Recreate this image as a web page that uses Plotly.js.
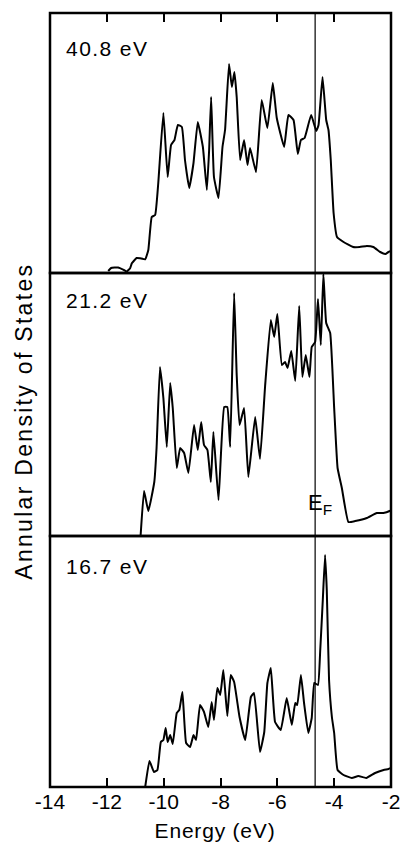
<!DOCTYPE html>
<html>
<head>
<meta charset="utf-8">
<script src="https://cdn.plot.ly/plotly-3.0.1.min.js"></script>
<style>
  html, body { margin: 0; padding: 0; background: #fff; }
  #chart { width: 400px; height: 842px; }
  g.annotation[data-index="0"] text { letter-spacing: 1.4px; }
  g.annotation[data-index="1"] text { letter-spacing: 1.4px; }
  g.annotation[data-index="2"] text { letter-spacing: 1.4px; }
  g.annotation[data-index="4"] text { letter-spacing: 2.3px; }
  g.annotation[data-index="5"] text { letter-spacing: 0.8px; }
</style>
</head>
<body>
<div id="chart"></div>
<script>
// ---- Data (energy in eV, annular density of states in arbitrary units) ----
const energy408 = [-11.95,-11.85,-11.6,-11.4,-11.3,-11.18,-11.12,-10.95,-10.83,-10.65,-10.54,-10.42,-10.3,-10.19,-10.01,-9.86,-9.74,-9.62,-9.5,-9.36,-9.25,-9.1,-8.95,-8.8,-8.62,-8.48,-8.4,-8.33,-8.23,-8.07,-7.93,-7.84,-7.7,-7.6,-7.51,-7.43,-7.31,-7.17,-7.05,-6.96,-6.75,-6.55,-6.35,-6.16,-6.02,-5.76,-5.61,-5.43,-5.28,-5.17,-5.04,-4.81,-4.63,-4.55,-4.41,-4.28,-4.2,-4.12,-4.02,-3.9,-3.67,-3.33,-3.1,-2.85,-2.62,-2.38,-2.2,-2.09,-2.0];
const dos408    = [2,5,5.5,3,1.5,4.7,9.7,15,14.7,13.7,23,56,58,90,160,96,128,133,148,146,113,85,110,151,126,83,123,176,96,75,126,143,209,186,201,176,113,133,108,125,101,173,145,190,155,126,158,153,119,133,135,158,142,148,196,153,143,113,60,36,31,26,26,27,26,21,19,21,22];

const energy212 = [-10.81,-10.69,-10.54,-10.33,-10.25,-10.13,-10.01,-9.89,-9.77,-9.68,-9.54,-9.42,-9.28,-9.13,-8.93,-8.8,-8.68,-8.58,-8.46,-8.34,-8.25,-8.07,-7.87,-7.76,-7.66,-7.52,-7.43,-7.33,-7.17,-7.02,-6.78,-6.61,-6.43,-6.23,-6.11,-6.0,-5.84,-5.73,-5.64,-5.51,-5.37,-5.23,-5.12,-5.0,-4.87,-4.79,-4.67,-4.57,-4.47,-4.38,-4.28,-4.14,-4.0,-3.88,-3.73,-3.5,-3.26,-2.85,-2.5,-2.27,-2.05,-2.0];
const dos212    = [1,45,25,54,88,169,138,89,153,128,68,88,83,63,111,86,114,91,86,54,104,36,129,129,89,243,161,111,128,59,119,77,150,216,199,222,171,174,168,185,155,230,159,181,159,189,194,237,191,262,213,203,128,68,48,14,15,18,23,23,25,26];

const energy167 = [-10.65,-10.5,-10.34,-10.22,-10.1,-10.01,-9.93,-9.86,-9.77,-9.68,-9.54,-9.45,-9.34,-9.21,-9.07,-8.95,-8.86,-8.72,-8.58,-8.43,-8.31,-8.23,-8.11,-8.01,-7.9,-7.76,-7.64,-7.52,-7.33,-7.13,-6.93,-6.82,-6.61,-6.46,-6.35,-6.23,-6.08,-5.88,-5.67,-5.49,-5.37,-5.3,-5.17,-5.06,-4.91,-4.79,-4.7,-4.57,-4.49,-4.4,-4.32,-4.26,-4.18,-4.08,-4.0,-3.88,-3.67,-3.38,-3.15,-2.87,-2.56,-2.26,-2.09,-2.0];
const dos167    = [0,26,15,17,45,47,59,45,52,43,74,77,95,44,40,52,47,82,75,60,85,67,99,92,117,71,112,105,70,47,90,94,35,55,104,119,65,57,89,62,84,82,112,84,54,69,104,102,137,187,232,197,107,70,54,17,12,9,11,9,14,17,18,19];

const panelLabels = ["40.8 eV", "21.2 eV", "16.7 eV"];
const fermiEnergy = -4.67;
const tickValues = [-14, -12, -10, -8, -6, -4, -2];
const tickLabels = ["-14", "-12", "-10", "-8", "-6", "-4", "-2"];
const xTitle = "Energy (eV)";
const yTitle = "Annular Density of States";

// ---- Layout geometry ----
const FONT = "'Liberation Sans', Arial, Helvetica, sans-serif";
const H_TOP = 260, H_MID = 263, H_BOT = 251;
const TOTAL = H_TOP + H_MID + H_BOT;
const dBot = [0, H_BOT / TOTAL];
const dMid = [H_BOT / TOTAL, (H_BOT + H_MID) / TOTAL];
const dTop = [(H_BOT + H_MID) / TOTAL, 1];

const lineStyle = { color: '#000', width: 2, shape: 'spline', smoothing: 0.35 };

const traces = [
  { x: energy408, y: dos408, xaxis: 'x2', yaxis: 'y3', mode: 'lines', line: lineStyle, hoverinfo: 'skip' },
  { x: energy212, y: dos212, xaxis: 'x3', yaxis: 'y2', mode: 'lines', line: lineStyle, hoverinfo: 'skip' },
  { x: energy167, y: dos167, xaxis: 'x',  yaxis: 'y',  mode: 'lines', line: lineStyle, hoverinfo: 'skip' }
];

const baseX = {
  range: [-14, -2], showgrid: false, zeroline: false,
  tickmode: 'array', tickvals: tickValues, ticktext: tickLabels,
  ticks: 'inside', ticklen: 9, tickwidth: 2, tickcolor: '#000',
  showline: false, fixedrange: true, ticklabeloverflow: 'allow'
};
const baseY = { showgrid: false, zeroline: false, showticklabels: false, ticks: '', showline: false, fixedrange: true };

function py(p) { return (787 - p) / TOTAL; }   // pixel row -> paper
function px(p) { return (p - 50) / 341; }       // pixel col -> paper

const border = { color: '#000', width: 2.5 };
const shapes = [
  { type: 'rect', xref: 'paper', yref: 'paper', x0: 0, x1: 1, y0: dTop[0], y1: dTop[1], line: border },
  { type: 'rect', xref: 'paper', yref: 'paper', x0: 0, x1: 1, y0: dMid[0], y1: dMid[1], line: border },
  { type: 'rect', xref: 'paper', yref: 'paper', x0: 0, x1: 1, y0: dBot[0], y1: dBot[1], line: border },
  { type: 'line', xref: 'x', yref: 'paper', x0: fermiEnergy, x1: fermiEnergy, y0: 0, y1: 1, line: { color: '#000', width: 1.2 } }
];

const labelFont = { family: FONT, size: 21, color: '#000' };
const annotations = [
  { text: panelLabels[0], xref: 'paper', yref: 'paper', x: px(69), y: py(49), xanchor: 'left', yanchor: 'middle', showarrow: false, font: labelFont },
  { text: panelLabels[1], xref: 'paper', yref: 'paper', x: px(69), y: py(300.5), xanchor: 'left', yanchor: 'middle', showarrow: false, font: labelFont },
  { text: panelLabels[2], xref: 'paper', yref: 'paper', x: px(69), y: py(566), xanchor: 'left', yanchor: 'middle', showarrow: false, font: labelFont },
  { text: 'E<sub>F</sub>', xref: 'paper', yref: 'paper', x: px(306), y: py(504), xanchor: 'left', yanchor: 'middle', showarrow: false, font: { family: FONT, size: 22, color: '#000' } },
  { text: yTitle, xref: 'paper', yref: 'paper', x: px(24), y: py(421), xanchor: 'center', yanchor: 'middle', textangle: -90, showarrow: false, font: { family: FONT, size: 23, color: '#000' } },
  { text: xTitle, xref: 'paper', yref: 'paper', x: px(215), y: py(830), xanchor: 'center', yanchor: 'middle', showarrow: false, font: { family: FONT, size: 21, color: '#000' } }
];

const layout = {
  width: 400, height: 842,
  margin: { l: 50, r: 9, t: 13, b: 55, pad: 0 },
  paper_bgcolor: '#fff', plot_bgcolor: '#fff',
  showlegend: false,
  font: { family: FONT, size: 21, color: '#000' },
  xaxis:  Object.assign({}, baseX, { anchor: 'y', side: 'bottom', showticklabels: true, tickfont: { family: FONT, size: 21, color: '#000' } }),
  xaxis2: Object.assign({}, baseX, { anchor: 'y3', side: 'top', matches: 'x', showticklabels: false }),
  xaxis3: Object.assign({}, baseX, { anchor: 'y2', matches: 'x', ticks: '', showticklabels: false }),
  yaxis:  Object.assign({}, baseY, { domain: dBot, range: [0, H_BOT] }),
  yaxis2: Object.assign({}, baseY, { domain: dMid, range: [0, H_MID] }),
  yaxis3: Object.assign({}, baseY, { domain: dTop, range: [0, H_TOP] }),
  shapes: shapes,
  annotations: annotations
};

Plotly.newPlot('chart', traces, layout, { staticPlot: true, displayModeBar: false });
</script>
</body>
</html>
